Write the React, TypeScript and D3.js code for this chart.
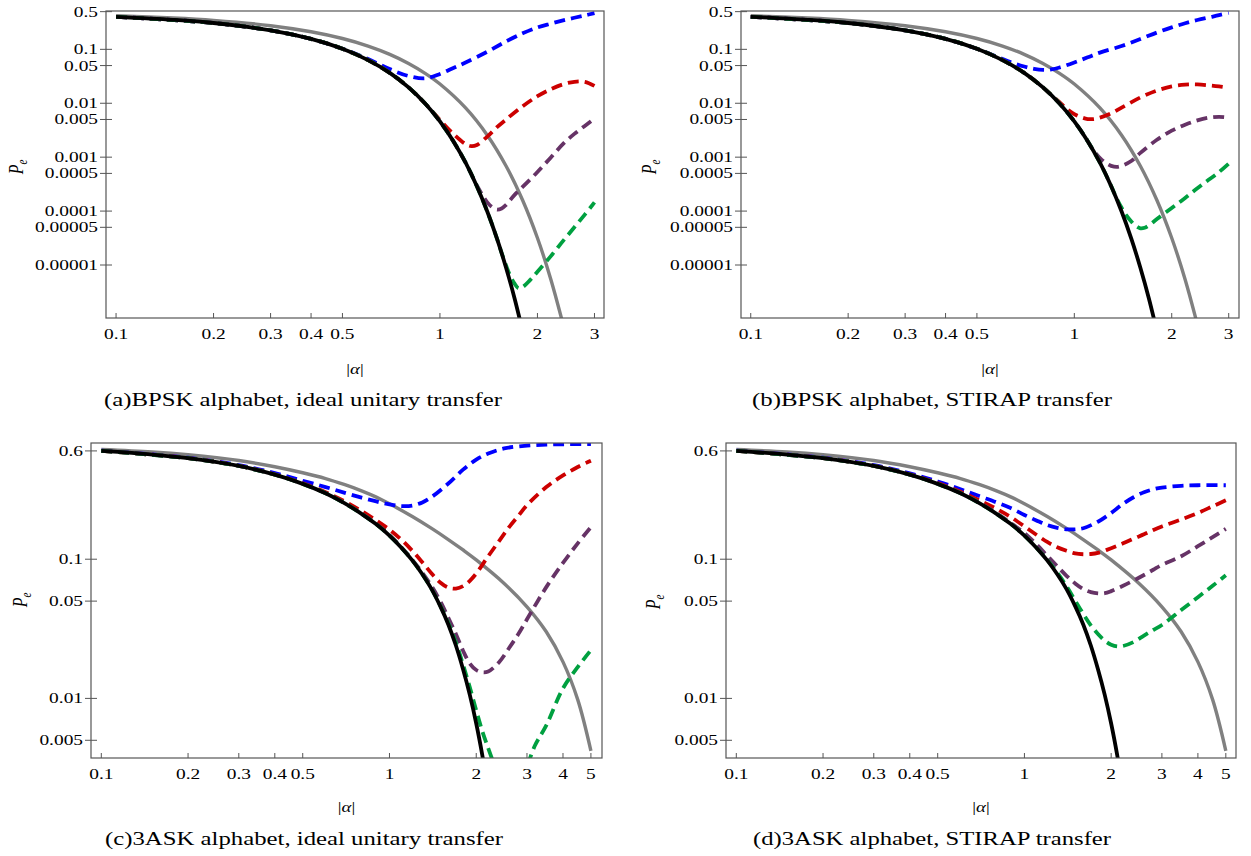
import React, { useRef, useEffect } from 'react';
import * as d3 from 'd3';

type Pt = [number, number];

const FONT = "'Liberation Serif', 'Times New Roman', Times, serif";
const STRETCH = 1.25;

const X_TICKS_BPSK = [0.1, 0.2, 0.3, 0.4, 0.5, 1, 2, 3];
const X_TICKS_ASK = [0.1, 0.2, 0.3, 0.4, 0.5, 1, 2, 3, 4, 5];
const Y_TICKS_BPSK = [0.5, 0.1, 0.05, 0.01, 0.005, 0.001, 0.0005, 0.0001, 0.00005, 0.00001];
const Y_TICKS_ASK = [0.6, 0.1, 0.05, 0.01, 0.005];

const CAPTIONS = [
  '(a)BPSK alphabet, ideal unitary transfer',
  '(b)BPSK alphabet, STIRAP transfer',
  '(c)3ASK alphabet, ideal unitary transfer',
  '(d)3ASK alphabet, STIRAP transfer',
];

// BPSK: black and gray bounds (same in a and b)
const BPSK_BLACK: Pt[] = [[0.1, 0.401], [0.15, 0.353], [0.2, 0.308], [0.3, 0.225], [0.4, 0.156], [0.5, 0.1025], [0.6, 0.0632], [0.7, 0.0366], [0.8, 0.0197], [0.9, 0.0099], [1.0, 0.0046], [1.1, 0.00198], [1.2, 0.00079], [1.3, 0.00029], [1.4, 0.0000984], [1.5, 0.0000309], [1.6, 0.0000089], [1.7, 0.0000024], [1.8, 0.00000059]];
const BPSK_GRAY: Pt[] = [[0.1, 0.4207], [0.15, 0.3821], [0.2, 0.3446], [0.3, 0.2743], [0.4, 0.2119], [0.5, 0.1587], [0.6, 0.1151], [0.7, 0.0808], [0.8, 0.0548], [0.9, 0.0359], [1.0, 0.02275], [1.2, 0.0082], [1.4, 0.00256], [1.6, 0.000687], [1.8, 0.000159], [2.0, 0.0000317], [2.2, 0.0000054], [2.4, 0.00000079]];

const A_BLUE: Pt[] = [[0.1, 0.401], [0.2, 0.308], [0.3, 0.225], [0.4, 0.156], [0.5, 0.1025], [0.6, 0.066], [0.7, 0.043], [0.8, 0.032], [0.9, 0.029], [1.0, 0.035], [1.1, 0.045], [1.2, 0.057], [1.4, 0.09], [1.6, 0.14], [1.8, 0.198], [2.0, 0.255], [2.2, 0.3], [2.4, 0.345], [2.6, 0.385], [2.8, 0.425], [3.0, 0.47]];
const A_RED: Pt[] = [[0.1, 0.401], [0.2, 0.308], [0.3, 0.225], [0.4, 0.156], [0.5, 0.1025], [0.6, 0.0632], [0.7, 0.0366], [0.8, 0.0197], [0.9, 0.0099], [1.0, 0.0049], [1.1, 0.0027], [1.2, 0.00175], [1.25, 0.0016], [1.3, 0.00168], [1.4, 0.0024], [1.5, 0.0036], [1.6, 0.005], [1.8, 0.0088], [2.0, 0.0135], [2.2, 0.0183], [2.4, 0.0225], [2.6, 0.025], [2.8, 0.025], [3.0, 0.021]];
const A_PURPLE: Pt[] = [[0.1, 0.401], [0.2, 0.308], [0.3, 0.225], [0.4, 0.156], [0.5, 0.1025], [0.6, 0.0632], [0.7, 0.0366], [0.8, 0.0197], [0.9, 0.0099], [1.0, 0.0046], [1.1, 0.00198], [1.2, 0.00079], [1.3, 0.0003], [1.4, 0.000145], [1.45, 0.000118], [1.5, 0.000107], [1.55, 0.000112], [1.6, 0.00013], [1.7, 0.0002], [1.8, 0.00028], [2.0, 0.00053], [2.2, 0.00099], [2.4, 0.00176], [2.6, 0.0027], [2.8, 0.0038], [3.0, 0.0052]];
const A_GREEN: Pt[] = [[0.1, 0.401], [0.2, 0.308], [0.3, 0.225], [0.4, 0.156], [0.5, 0.1025], [0.6, 0.0632], [0.7, 0.0366], [0.8, 0.0197], [0.9, 0.0099], [1.0, 0.0046], [1.1, 0.00198], [1.2, 0.00079], [1.3, 0.00029], [1.4, 0.0000984], [1.5, 0.0000309], [1.55, 0.0000168], [1.6, 0.0000098], [1.65, 0.0000062], [1.7, 0.0000045], [1.75, 0.0000037], [1.8, 0.0000039], [1.9, 0.0000053], [2.0, 0.0000075], [2.2, 0.0000146], [2.4, 0.000028], [2.6, 0.00005], [2.8, 0.000086], [3.0, 0.000145]];

const B_BLUE: Pt[] = [[0.1, 0.401], [0.2, 0.308], [0.3, 0.225], [0.4, 0.156], [0.5, 0.1025], [0.55, 0.082], [0.6, 0.066], [0.65, 0.055], [0.7, 0.048], [0.75, 0.0435], [0.8, 0.0415], [0.85, 0.0425], [0.9, 0.046], [1.0, 0.057], [1.1, 0.071], [1.2, 0.087], [1.4, 0.115], [1.6, 0.155], [1.8, 0.205], [2.0, 0.255], [2.2, 0.305], [2.4, 0.35], [2.6, 0.39], [2.8, 0.43], [3.0, 0.475]];
const B_RED: Pt[] = [[0.1, 0.401], [0.2, 0.308], [0.3, 0.225], [0.4, 0.156], [0.5, 0.1025], [0.6, 0.0632], [0.7, 0.0366], [0.8, 0.0197], [0.85, 0.0142], [0.9, 0.0105], [0.95, 0.0078], [1.0, 0.0063], [1.05, 0.0055], [1.1, 0.0051], [1.15, 0.0051], [1.2, 0.0054], [1.3, 0.0065], [1.4, 0.0083], [1.6, 0.0128], [1.8, 0.0172], [2.0, 0.0205], [2.2, 0.0221], [2.4, 0.0223], [2.6, 0.0215], [2.8, 0.0205], [3.0, 0.0193]];
const B_PURPLE: Pt[] = [[0.1, 0.401], [0.2, 0.308], [0.3, 0.225], [0.4, 0.156], [0.5, 0.1025], [0.6, 0.0632], [0.7, 0.0366], [0.8, 0.0197], [0.9, 0.0099], [1.0, 0.0046], [1.1, 0.00198], [1.15, 0.0013], [1.2, 0.00096], [1.25, 0.00078], [1.3, 0.00069], [1.35, 0.00066], [1.4, 0.00069], [1.5, 0.00085], [1.6, 0.0012], [1.8, 0.0021], [2.0, 0.0031], [2.2, 0.004], [2.4, 0.0048], [2.6, 0.0054], [2.8, 0.0056], [3.0, 0.0054]];
const B_GREEN: Pt[] = [[0.1, 0.401], [0.2, 0.308], [0.3, 0.225], [0.4, 0.156], [0.5, 0.1025], [0.6, 0.0632], [0.7, 0.0366], [0.8, 0.0197], [0.9, 0.0099], [1.0, 0.0046], [1.1, 0.00198], [1.2, 0.00079], [1.3, 0.00029], [1.35, 0.000175], [1.4, 0.000115], [1.45, 0.000082], [1.5, 0.000064], [1.55, 0.000053], [1.6, 0.000048], [1.65, 0.000049], [1.7, 0.000054], [1.8, 0.000071], [2.0, 0.000114], [2.2, 0.000175], [2.4, 0.000265], [2.6, 0.00038], [2.8, 0.00053], [3.0, 0.00076]];

// 3ASK: black and gray bounds (same in c and d)
const ASK_BLACK: Pt[] = [[0.1, 0.6], [0.15, 0.565], [0.2, 0.532], [0.3, 0.468], [0.4, 0.405], [0.5, 0.348], [0.6, 0.298], [0.7, 0.252], [0.8, 0.212], [0.9, 0.178], [1.0, 0.148], [1.1, 0.121], [1.2, 0.098], [1.3, 0.078], [1.4, 0.061], [1.5, 0.046], [1.6, 0.034], [1.7, 0.024], [1.8, 0.0162], [1.9, 0.0106], [2.0, 0.0066], [2.1, 0.0039], [2.2, 0.0022]];
const ASK_GRAY: Pt[] = [[0.1, 0.615], [0.15, 0.59], [0.2, 0.563], [0.3, 0.512], [0.4, 0.462], [0.5, 0.418], [0.6, 0.38], [0.7, 0.343], [0.8, 0.31], [0.9, 0.2795], [1.0, 0.25], [1.2, 0.2027], [1.4, 0.1665], [1.6, 0.1385], [1.8, 0.1165], [2.0, 0.0988], [2.5, 0.0669], [3.0, 0.0455], [3.5, 0.0301], [4.0, 0.0183], [4.5, 0.0098], [5.0, 0.0042]];

const C_BLUE: Pt[] = [[0.1, 0.602], [0.2, 0.536], [0.3, 0.474], [0.4, 0.416], [0.5, 0.366], [0.6, 0.33], [0.7, 0.3], [0.8, 0.277], [0.9, 0.26], [1.0, 0.248], [1.1, 0.241], [1.2, 0.243], [1.3, 0.256], [1.4, 0.28], [1.6, 0.35], [1.8, 0.44], [2.0, 0.52], [2.2, 0.575], [2.5, 0.625], [3.0, 0.655], [3.5, 0.665], [4.0, 0.67], [5.0, 0.672]];
const C_RED: Pt[] = [[0.1, 0.6], [0.2, 0.533], [0.3, 0.469], [0.4, 0.407], [0.5, 0.351], [0.6, 0.303], [0.7, 0.26], [0.8, 0.222], [0.9, 0.19], [1.0, 0.163], [1.1, 0.138], [1.2, 0.115], [1.3, 0.095], [1.4, 0.079], [1.5, 0.068], [1.6, 0.0625], [1.7, 0.0615], [1.8, 0.064], [1.9, 0.07], [2.0, 0.079], [2.2, 0.105], [2.4, 0.135], [2.6, 0.17], [2.8, 0.205], [3.0, 0.245], [3.5, 0.33], [4.0, 0.4], [4.5, 0.46], [5.0, 0.51]];
const C_PURPLE: Pt[] = [[0.1, 0.6], [0.2, 0.532], [0.3, 0.468], [0.4, 0.405], [0.5, 0.349], [0.6, 0.299], [0.7, 0.253], [0.8, 0.213], [0.9, 0.179], [1.0, 0.149], [1.1, 0.122], [1.2, 0.099], [1.3, 0.08], [1.4, 0.064], [1.5, 0.05], [1.6, 0.038], [1.7, 0.029], [1.8, 0.022], [1.9, 0.0178], [2.0, 0.016], [2.1, 0.0154], [2.2, 0.0156], [2.4, 0.0182], [2.6, 0.023], [2.8, 0.029], [3.0, 0.037], [3.5, 0.063], [4.0, 0.094], [4.5, 0.13], [5.0, 0.17]];
const C_GREEN: Pt[] = [[0.1, 0.6], [0.2, 0.532], [0.3, 0.468], [0.4, 0.405], [0.5, 0.348], [0.6, 0.298], [0.7, 0.252], [0.8, 0.212], [0.9, 0.178], [1.0, 0.148], [1.1, 0.121], [1.2, 0.098], [1.3, 0.078], [1.4, 0.061], [1.5, 0.0465], [1.6, 0.0348], [1.7, 0.0252], [1.8, 0.0175], [1.9, 0.012], [2.0, 0.0082], [2.1, 0.0058], [2.2, 0.0044], [2.3, 0.0034], [2.4, 0.0026], [2.55, 0.0019], [2.7, 0.0018], [2.85, 0.0023], [3.0, 0.0032], [3.2, 0.0046], [3.5, 0.0064], [4.0, 0.0118], [4.5, 0.0168], [5.0, 0.0222]];

const D_BLUE: Pt[] = [[0.1, 0.602], [0.2, 0.536], [0.3, 0.474], [0.4, 0.414], [0.5, 0.362], [0.6, 0.318], [0.7, 0.283], [0.8, 0.256], [0.9, 0.232], [1.0, 0.208], [1.1, 0.19], [1.2, 0.176], [1.3, 0.168], [1.4, 0.164], [1.5, 0.164], [1.6, 0.167], [1.8, 0.186], [2.0, 0.215], [2.2, 0.25], [2.4, 0.28], [2.6, 0.303], [2.8, 0.318], [3.0, 0.327], [3.5, 0.337], [4.0, 0.34], [5.0, 0.34]];
const D_RED: Pt[] = [[0.1, 0.6], [0.2, 0.533], [0.3, 0.469], [0.4, 0.407], [0.5, 0.352], [0.6, 0.305], [0.7, 0.264], [0.8, 0.23], [0.9, 0.2], [1.0, 0.172], [1.1, 0.15], [1.2, 0.133], [1.3, 0.122], [1.4, 0.115], [1.5, 0.11], [1.6, 0.1086], [1.7, 0.109], [1.8, 0.111], [2.0, 0.12], [2.2, 0.13], [2.4, 0.141], [2.6, 0.151], [2.8, 0.162], [3.0, 0.172], [3.5, 0.193], [4.0, 0.215], [4.5, 0.24], [5.0, 0.265]];
const D_PURPLE: Pt[] = [[0.1, 0.6], [0.2, 0.532], [0.3, 0.468], [0.4, 0.405], [0.5, 0.349], [0.6, 0.3], [0.7, 0.254], [0.8, 0.214], [0.9, 0.181], [1.0, 0.154], [1.1, 0.128], [1.2, 0.106], [1.3, 0.089], [1.4, 0.076], [1.5, 0.067], [1.6, 0.061], [1.7, 0.058], [1.8, 0.0568], [1.9, 0.057], [2.0, 0.059], [2.2, 0.0645], [2.4, 0.0705], [2.6, 0.077], [2.8, 0.084], [3.0, 0.091], [3.5, 0.105], [4.0, 0.124], [4.5, 0.144], [5.0, 0.165]];
const D_GREEN: Pt[] = [[0.1, 0.6], [0.2, 0.532], [0.3, 0.468], [0.4, 0.405], [0.5, 0.348], [0.6, 0.298], [0.7, 0.252], [0.8, 0.212], [0.9, 0.178], [1.0, 0.148], [1.1, 0.121], [1.2, 0.099], [1.3, 0.08], [1.4, 0.064], [1.5, 0.0505], [1.6, 0.0405], [1.7, 0.0335], [1.8, 0.029], [1.9, 0.026], [2.0, 0.0243], [2.1, 0.0236], [2.2, 0.0238], [2.4, 0.0255], [2.6, 0.0283], [2.8, 0.031], [3.0, 0.0337], [3.5, 0.0431], [4.0, 0.0534], [4.5, 0.0644], [5.0, 0.0767]];

const COLORS = { black: '#000000', gray: '#808080', blue: '#0000ff', red: '#cc0000', purple: '#663366', green: '#00a040' };

const PANELS = [
  { left: 106, right: 604, top: 11, bottom: 318, xDomain: [0.0931, 3.21], yDomain: [1.04e-6, 0.514], xTicks: X_TICKS_BPSK, yTicks: Y_TICKS_BPSK,
    black: BPSK_BLACK, gray: BPSK_GRAY, dashed: [A_BLUE, A_RED, A_PURPLE, A_GREEN], caption: CAPTIONS[0], capX: 104, capY: 406, capLen: 398, peX: 23, peY: 167, alphaY: 374 },
  { left: 741, right: 1239, top: 11, bottom: 318, xDomain: [0.0933, 3.228], yDomain: [1.04e-6, 0.514], xTicks: X_TICKS_BPSK, yTicks: Y_TICKS_BPSK,
    black: BPSK_BLACK, gray: BPSK_GRAY, dashed: [B_BLUE, B_RED, B_PURPLE, B_GREEN], caption: CAPTIONS[1], capX: 752, capY: 406, capLen: 360, peX: 656, peY: 167, alphaY: 374 },
  { left: 91, right: 602, top: 443, bottom: 758, xDomain: [0.0921, 5.463], yDomain: [0.00373, 0.684], xTicks: X_TICKS_ASK, yTicks: Y_TICKS_ASK,
    black: ASK_BLACK, gray: ASK_GRAY, dashed: [C_BLUE, C_RED, C_PURPLE, C_GREEN], caption: CAPTIONS[2], capX: 105, capY: 845, capLen: 398, peX: 27, peY: 600, alphaY: 812 },
  { left: 726, right: 1236, top: 443, bottom: 758, xDomain: [0.0921, 5.424], yDomain: [0.00373, 0.684], xTicks: X_TICKS_ASK, yTicks: Y_TICKS_ASK,
    black: ASK_BLACK, gray: ASK_GRAY, dashed: [D_BLUE, D_RED, D_PURPLE, D_GREEN], caption: CAPTIONS[3], capX: 753, capY: 845, capLen: 358, peX: 660, peY: 602, alphaY: 812 },
];

const DASH_COLORS = [COLORS.blue, COLORS.red, COLORS.purple, COLORS.green];

const App = () => {
  const ref = useRef<SVGSVGElement>(null);

  useEffect(() => {
    if (!ref.current) return;
    const svg = d3.select(ref.current);
    svg.selectAll('*').remove();
    const defs = svg.append('defs');

    PANELS.forEach((p, i) => {
      const x = d3.scaleLog().domain(p.xDomain).range([p.left, p.right]);
      const y = d3.scaleLog().domain(p.yDomain).range([p.bottom, p.top]);
      const line = d3.line<Pt>()
        .x(d => x(d[0]))
        .y(d => y(d[1]))
        .curve(d3.curveCatmullRom.alpha(0.5));

      defs.append('clipPath').attr('id', `clip${i}`)
        .append('rect')
        .attr('x', p.left).attr('y', p.top)
        .attr('width', p.right - p.left).attr('height', p.bottom - p.top);

      const g = svg.append('g');
      const plot = g.append('g').attr('clip-path', `url(#clip${i})`).attr('fill', 'none');

      plot.append('path').attr('d', line(p.gray))
        .attr('stroke', COLORS.gray).attr('stroke-width', 3.4);

      p.dashed.forEach((data, k) => {
        plot.append('path').attr('d', line(data))
          .attr('stroke', DASH_COLORS[k]).attr('stroke-width', 3.8)
          .attr('stroke-dasharray', '11,6');
      });

      plot.append('path').attr('d', line(p.black))
        .attr('stroke', COLORS.black).attr('stroke-width', 3.8);

      // frame
      g.append('rect')
        .attr('x', p.left).attr('y', p.top)
        .attr('width', p.right - p.left).attr('height', p.bottom - p.top)
        .attr('fill', 'none').attr('stroke', '#555').attr('stroke-width', 1.2);

      // x ticks
      p.xTicks.forEach(t => {
        g.append('line')
          .attr('x1', x(t)).attr('x2', x(t))
          .attr('y1', p.bottom).attr('y2', p.bottom - 5)
          .attr('stroke', '#555').attr('stroke-width', 1);
        g.append('g')
          .attr('transform', `translate(${x(t)},${p.bottom + 21}) scale(${STRETCH},1)`)
          .append('text')
          .attr('text-anchor', 'middle')
          .attr('font-family', FONT).attr('font-size', 15.5)
          .text(String(t));
      });

      // y ticks
      p.yTicks.forEach(t => {
        g.append('line')
          .attr('x1', p.left - 6).attr('x2', p.left + 6)
          .attr('y1', y(t)).attr('y2', y(t))
          .attr('stroke', '#555').attr('stroke-width', 1);
        g.append('g')
          .attr('transform', `translate(${p.left - 8},${y(t) + 5}) scale(${STRETCH},1)`)
          .append('text')
          .attr('text-anchor', 'end')
          .attr('font-family', FONT).attr('font-size', 15.5)
          .text(String(t));
      });

      // axis labels
      const ax = g.append('g')
        .attr('transform', `translate(${(p.left + p.right) / 2},${p.alphaY}) scale(${STRETCH},1)`)
        .append('text')
        .attr('text-anchor', 'middle')
        .attr('font-family', FONT).attr('font-size', 15);
      ax.append('tspan').text('|');
      ax.append('tspan').attr('font-style', 'italic').text('α');
      ax.append('tspan').text('|');

      const pe = g.append('g')
        .attr('transform', `translate(${p.peX},${p.peY}) scale(${STRETCH},1) rotate(-90)`)
        .append('text')
        .attr('text-anchor', 'middle')
        .attr('font-family', FONT).attr('font-size', 16).attr('font-style', 'italic');
      pe.append('tspan').text('P');
      pe.append('tspan').attr('font-size', 11).attr('dy', 3).text('e');

      // caption
      svg.append('text')
        .attr('x', p.capX).attr('y', p.capY)
        .attr('font-family', FONT).attr('font-size', 18)
        .attr('textLength', p.capLen).attr('lengthAdjust', 'spacingAndGlyphs')
        .text(p.caption);
    });
  }, []);

  return (
    <svg ref={ref} width={1251} height={856}
      style={{ position: 'absolute', left: 0, top: 0, background: '#fff' }} />
  );
};

export default App;
